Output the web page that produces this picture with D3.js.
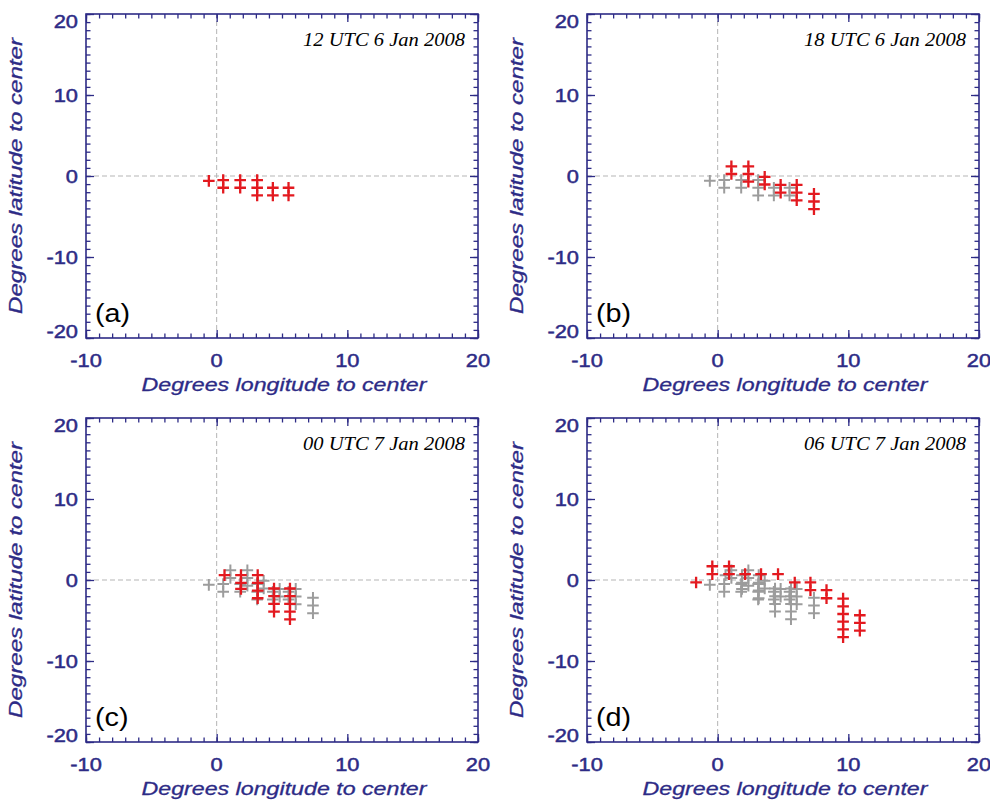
<!DOCTYPE html>
<html><head><meta charset="utf-8">
<script src="https://cdn.jsdelivr.net/npm/d3@7"></script>
<style>body{margin:0;background:#fff}svg{display:block}</style>
</head><body>
<svg id="chart" width="990" height="802"></svg>
<script>
// ---- data ----
const titles = ["12 UTC 6 Jan 2008", "18 UTC 6 Jan 2008", "00 UTC 7 Jan 2008", "06 UTC 7 Jan 2008"];
const letters = ["(a)", "(b)", "(c)", "(d)"];
const xTicks = [-10, 0, 10, 20];
const yTicks = [-20, -10, 0, 10, 20];
const xMinor = d3.range(-10, 21, 1);
const yMinor = d3.range(-20, 21, 1);
const xLabel = "Degrees longitude to center";
const yLabel = "Degrees latitude to center";

// [lon offset, lat offset] of each marked grid point
const pts12UTC6Jan = [[-0.6,-0.6],[0.5,-0.5],[0.5,-1.45],[1.8,-0.5],[1.8,-1.45],[3.1,-0.5],[3.1,-1.45],[3.1,-2.4],
  [4.3,-1.45],[4.3,-2.4],[5.5,-1.45],[5.5,-2.4]];
const pts18UTC6Jan = [[1.05,1.2],[1.05,0.25],[2.35,1.2],[2.35,0.25],[2.35,-0.7],[3.6,-0.1],[3.6,-1.05],
  [4.82,-1.1],[4.82,-2.05],[6.05,-1.1],[6.05,-2.05],[6.05,-3.0],[7.37,-2.2],[7.37,-3.15],[7.37,-4.1]];
const pts00UTC7Jan = [[0.6,0.6],[1.86,0.6],[1.86,-0.35],[1.86,-1.1],[3.14,0.6],[3.14,-0.35],[3.14,-1.3],[3.14,-2.25],
  [4.39,-1.05],[4.39,-2.0],[4.39,-2.95],[4.39,-3.9],[5.61,-1.05],[5.61,-2.0],[5.61,-2.95],[5.61,-3.9],[5.61,-4.85]];
const pts06UTC7Jan = [[-1.65,-0.3],[-0.41,1.7],[-0.41,0.72],[0.87,1.7],[0.87,0.72],[2.1,0.72],[3.32,0.72],[4.62,0.72],
  [5.9,-0.3],[7.1,-0.3],[7.1,-1.25],[8.33,-1.25],[8.33,-2.25],
  [9.6,-2.3],[9.6,-3.25],[9.6,-4.2],[9.6,-5.15],[9.6,-6.1],[9.6,-7.05],
  [10.88,-4.35],[10.88,-5.3],[10.88,-6.25]];
const series = [pts12UTC6Jan, pts18UTC6Jan, pts00UTC7Jan, pts06UTC7Jan];

// ---- layout / style ----
const W = 392, H = 324;
const origins = [[86, 14], [587, 14], [86, 418], [587, 418]];
const navy = "#2d2b86", red = "#e3191f", gray = "#9c9c9c";
const sansFont = "'Liberation Sans', Arial, Helvetica, sans-serif";
const serifFont = "'Liberation Serif', 'Times New Roman', serif";
const SX = 1.15; // wide glyphs
const svg = d3.select("#chart");
svg.append("rect").attr("width", 990).attr("height", 802).attr("fill", "#fff");

function crosses(g, pts, x, y, color, sw) {
  const r = 5.8;
  g.append("g").selectAll("path").data(pts).join("path")
    .attr("d", d => {
      const cx = x(d[0]), cy = y(d[1]);
      return `M${cx - r},${cy}H${cx + r}M${cx},${cy - r}V${cy + r}`;
    })
    .attr("stroke", color).attr("stroke-width", sw).attr("fill", "none");
}

series.forEach((pts, i) => {
  const [ox, oy] = origins[i];
  const x = d3.scaleLinear().domain([-10, 20]).range([ox, ox + W]);
  const y = d3.scaleLinear().domain([-20, 20]).range([oy + H, oy]);
  const g = svg.append("g");

  // zero lines
  g.append("line").attr("x1", x(0)).attr("x2", x(0)).attr("y1", y(-20)).attr("y2", y(20))
    .attr("stroke", "#b5b5b5").attr("stroke-width", 1).attr("stroke-dasharray", "5,3");
  g.append("line").attr("x1", x(-10)).attr("x2", x(20)).attr("y1", y(0)).attr("y2", y(0))
    .attr("stroke", "#b5b5b5").attr("stroke-width", 1).attr("stroke-dasharray", "5,3");

  // earlier positions in gray, current in red
  const prev = series.slice(0, i).flat();
  crosses(g, prev, x, y, gray, 2);
  crosses(g, pts, x, y, red, 2.3);

  // ticks
  const styleAxis = sel => {
    sel.select(".domain").remove();
    sel.selectAll("line").attr("stroke", navy).attr("stroke-width", 1.3);
    sel.selectAll("text").remove();
  };
  const mk = (axisFn, scale, vals, len, tr) =>
    g.append("g").attr("transform", tr)
      .call(axisFn(scale).tickValues(vals).tickSizeInner(-len).tickSizeOuter(0).tickFormat(""))
      .call(styleAxis);
  mk(d3.axisBottom, x, xMinor, 4.5, `translate(0,${oy + H})`);
  mk(d3.axisBottom, x, xTicks, 8, `translate(0,${oy + H})`);
  mk(d3.axisTop, x, xMinor, 4.5, `translate(0,${oy})`);
  mk(d3.axisTop, x, xTicks, 8, `translate(0,${oy})`);
  mk(d3.axisLeft, y, yMinor, 4.5, `translate(${ox},0)`);
  mk(d3.axisLeft, y, yTicks, 8, `translate(${ox},0)`);
  mk(d3.axisRight, y, yMinor, 4.5, `translate(${ox + W},0)`);
  mk(d3.axisRight, y, yTicks, 8, `translate(${ox + W},0)`);

  // frame
  g.append("rect").attr("x", ox).attr("y", oy).attr("width", W).attr("height", H)
    .attr("fill", "none").attr("stroke", navy).attr("stroke-width", 1.6);

  // tick labels
  g.append("g").selectAll("text").data(xTicks).join("text")
    .attr("transform", d => `translate(${x(d)},${oy + H + 29}) scale(${SX},1)`)
    .attr("text-anchor", "middle").attr("font-family", sansFont).attr("font-size", 19)
    .attr("fill", navy).attr("stroke", navy).attr("stroke-width", 0.5).text(d => d);
  g.append("g").selectAll("text").data(yTicks).join("text")
    .attr("transform", d => {
      const yy = Math.max(oy + 7, Math.min(oy + H - 7, y(d)));
      return `translate(${ox - 8},${yy}) scale(${SX},1)`;
    })
    .attr("dy", "0.36em")
    .attr("text-anchor", "end").attr("font-family", sansFont).attr("font-size", 19)
    .attr("fill", navy).attr("stroke", navy).attr("stroke-width", 0.5).text(d => d);

  // axis titles
  g.append("text").attr("x", ox + W / 2 + 2).attr("y", oy + H + 53)
    .attr("text-anchor", "middle").attr("font-family", sansFont).attr("font-style", "italic")
    .attr("font-size", 19).attr("fill", navy).attr("stroke", navy).attr("stroke-width", 0.3)
    .attr("textLength", 285).attr("lengthAdjust", "spacingAndGlyphs").text(xLabel);
  g.append("text").attr("transform", `translate(${ox - 64},${oy + H / 2}) rotate(-90)`)
    .attr("text-anchor", "middle").attr("font-family", sansFont).attr("font-style", "italic")
    .attr("font-size", 18).attr("fill", navy).attr("stroke", navy).attr("stroke-width", 0.3)
    .attr("textLength", 276).attr("lengthAdjust", "spacingAndGlyphs").text(yLabel);

  // panel title and letter
  g.append("text").attr("x", ox + W - 13).attr("y", oy + 32)
    .attr("text-anchor", "end").attr("font-family", serifFont).attr("font-style", "italic")
    .attr("font-size", 18).attr("fill", "#000")
    .attr("textLength", 162).attr("lengthAdjust", "spacingAndGlyphs").text(titles[i]);
  g.append("text").attr("transform", `translate(${ox + 9},${oy + H - 16}) scale(${SX},1)`)
    .attr("font-family", sansFont).attr("font-size", 25).attr("fill", "#000").text(letters[i]);
});
</script>
</body></html>
